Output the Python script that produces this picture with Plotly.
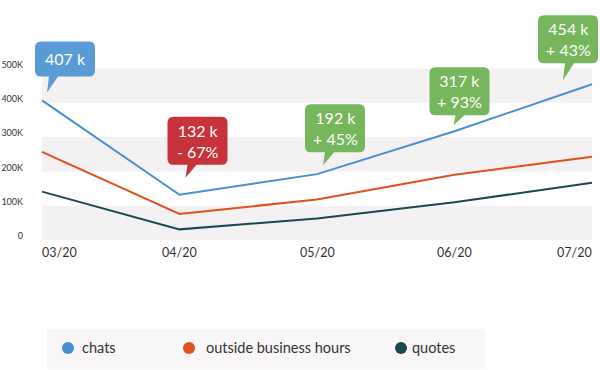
import plotly.graph_objects as go

# ---------------- data ----------------
months = ["03/20", "04/20", "05/20", "06/20", "07/20"]
series_names = ["chats", "outside business hours", "quotes"]
chats = [407000, 132000, 192000, 317000, 454000]
outside_hours = [257000, 76000, 118000, 190000, 243000]
quotes = [141000, 31000, 63000, 110000, 167000]
callout_values = ["407 k", "132 k", "192 k", "317 k", "454 k"]
callout_changes = ["", "- 67%", "+ 45%", "+ 93%", "+ 43%"]
ytick_vals = [0, 100000, 200000, 300000, 400000, 500000]
ytick_text = ["0", "100K", "200K", "300K", "400K", "500K"]
band_ranges = [(0, 100000), (200000, 300000), (400000, 500000)]

# ---------------- styles ----------------
W, H = 600, 370
FONT = "Lato, 'Open Sans', sans-serif"
line_colors = ["#4a8fd3", "#e2501e", "#1b4950"]
bubble_blue, bubble_red, bubble_green = "#5a9bd6", "#c8323a", "#76b65c"
band_color = "#f3f1f1"

ML, MR, MT, MB = 30, 0, 6, 130
X_FIRST_PX, X_LAST_PX = 42, 592     # where first/last category sit
Y_ZERO_PX, PX_PER_100K = 240, 34.3

plot_w = W - ML - MR
plot_h = H - MT - MB
px_per_cat = (X_LAST_PX - X_FIRST_PX) / (len(months) - 1)
x_range = [-(X_FIRST_PX - ML) / px_per_cat,
           (len(months) - 1) + (W - MR - X_LAST_PX) / px_per_cat]
y_top = plot_h / PX_PER_100K * 100000

# callout geometry in pixels relative to the data point (x right, y up)
# (box left, box bottom, tail tip dx, tail tip dy)
callout_geom = [(-7, 24, 5, 8), (-12, 30, 6, 17), (-12, 22, 6, 9),
                (-25, 16, -1, 6), (-54, 21, -29, 4)]
BOX_W, BOX_H1, BOX_H2, R = 60, 35, 48, 6

fig = go.Figure()

series = [chats, outside_hours, quotes]
for name, vals, col in zip(series_names, series, line_colors):
    fig.add_trace(go.Scatter(x=months, y=vals, mode="lines", name=name,
                             line=dict(color=col, width=2),
                             hoverinfo="skip", showlegend=False))

shapes = []
for lo, hi in band_ranges:
    shapes.append(dict(type="rect", xref="x", yref="y", x0=0, x1=len(months) - 1,
                       y0=lo, y1=hi, fillcolor=band_color, line=dict(width=0),
                       layer="below"))

annotations = []


def bubble_path(L, B, w, h, tip_dx, tip_dy):
    Rr, T = L + w, B + h
    b1, b2 = tip_dx + 2, tip_dx + 11
    return (f"M{L + R},{T} H{Rr - R} Q{Rr},{T} {Rr},{T - R} V{B + R} "
            f"Q{Rr},{B} {Rr - R},{B} H{b2} L{tip_dx},{tip_dy} L{b1},{B} "
            f"H{L + R} Q{L},{B} {L},{B + R} V{T - R} Q{L},{T} {L + R},{T} Z")


for i, (val, lab, chg, geom) in enumerate(zip(chats, callout_values, callout_changes, callout_geom)):
    L, B, tdx, tdy = geom
    if chg == "":
        color, h, text = bubble_blue, BOX_H1, lab
    else:
        color = bubble_red if chg.startswith("-") else bubble_green
        h, text = BOX_H2, f"{lab}<br>{chg}"
    shapes.append(dict(type="path", xref="x", yref="y", xsizemode="pixel",
                       ysizemode="pixel", xanchor=i, yanchor=val,
                       path=bubble_path(L, B, BOX_W, h, tdx, tdy),
                       fillcolor=color, line=dict(width=0), layer="above"))
    annotations.append(dict(x=i, y=val, xref="x", yref="y", text=text,
                            showarrow=False, xshift=L + BOX_W / 2, yshift=B + h / 2,
                            xanchor="center", yanchor="middle",
                            font=dict(family=FONT, size=16, color="white")))

# x-axis labels (ends aligned inward)
for i, m in enumerate(months):
    anchor = "left" if i == 0 else ("right" if i == len(months) - 1 else "center")
    annotations.append(dict(x=i, y=0, xref="x", yref="y", text=m, showarrow=False,
                            xanchor=anchor, yanchor="middle", yshift=-12,
                            xshift=-2 if i == 0 else (2 if i == len(months) - 1 else 0),
                            font=dict(family=FONT, size=12.5, color="#333333")))

# legend panel
def px2paper_x(px):
    return (px - ML) / plot_w


def px2paper_y(py):
    return (H - MB - py) / plot_h


LEG_BOX = (47, 329, 485, 369)
leg_dot_px = [68, 189, 401]
leg_text_px = [80, 204, 410]
LEG_Y = 348
shapes.append(dict(type="rect", xref="paper", yref="paper",
                   x0=px2paper_x(LEG_BOX[0]), x1=px2paper_x(LEG_BOX[2]),
                   y0=px2paper_y(LEG_BOX[3]), y1=px2paper_y(LEG_BOX[1]),
                   fillcolor="#f8f6f6", line=dict(width=0), layer="below"))
for name, col, dx, tx in zip(series_names, line_colors, leg_dot_px, leg_text_px):
    shapes.append(dict(type="circle", xref="paper", yref="paper",
                       xsizemode="pixel", ysizemode="pixel",
                       xanchor=px2paper_x(dx), yanchor=px2paper_y(LEG_Y),
                       x0=-6, x1=6, y0=-6, y1=6, fillcolor=col, line=dict(width=0)))
    annotations.append(dict(x=px2paper_x(tx), y=px2paper_y(LEG_Y - 1), xref="paper",
                            yref="paper", text=name, showarrow=False,
                            xanchor="left", yanchor="middle",
                            font=dict(family=FONT, size=14.5, color="#333333")))

fig.update_layout(
    template="none",
    width=W, height=H,
    margin=dict(l=ML, r=MR, t=MT, b=MB, pad=0),
    paper_bgcolor="white", plot_bgcolor="white",
    showlegend=False,
    shapes=shapes, annotations=annotations,
    font=dict(family=FONT),
    xaxis=dict(range=x_range, showticklabels=False, showgrid=False,
               zeroline=False, showline=False, ticks="", fixedrange=True),
    yaxis=dict(range=[0, y_top], tickvals=ytick_vals, ticktext=ytick_text,
               showgrid=False, zeroline=False, showline=False, ticks="",
               ticklabelstandoff=6, ticklabelshift=-4,
               tickfont=dict(family=FONT, size=9, color="#333333"),
               fixedrange=True),
)

fig.write_html("out.html", config={"displayModeBar": False},
               post_script="document.body.style.margin='0';document.body.style.overflow='hidden';")
